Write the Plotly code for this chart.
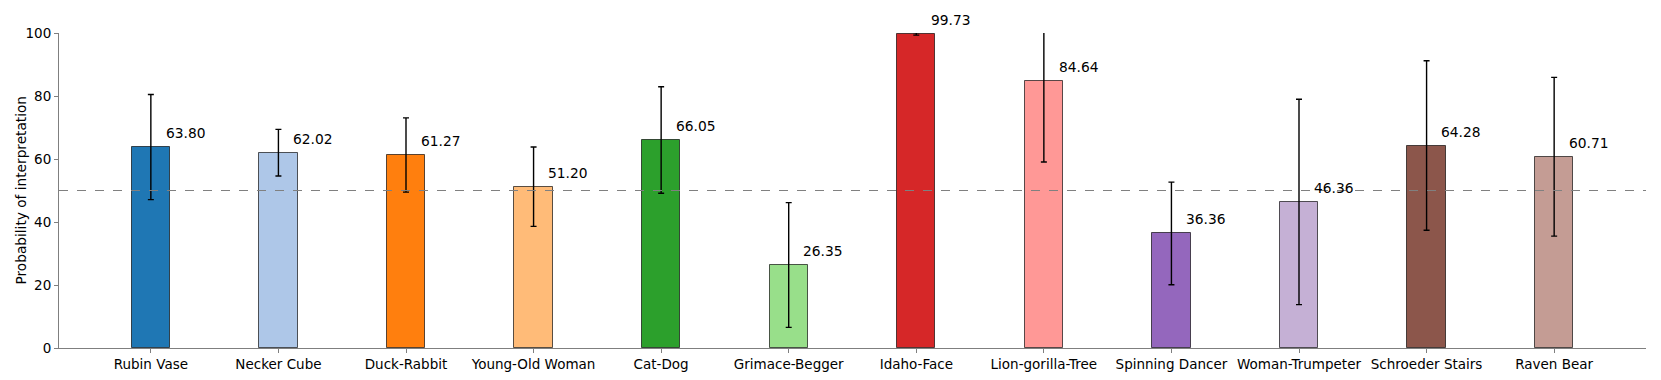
import plotly.graph_objects as go

categories = ["Rubin Vase", "Necker Cube", "Duck-Rabbit", "Young-Old Woman", "Cat-Dog",
              "Grimace-Begger", "Idaho-Face", "Lion-gorilla-Tree", "Spinning Dancer",
              "Woman-Trumpeter", "Schroeder Stairs", "Raven Bear"]
values = [63.80, 62.02, 61.27, 51.20, 66.05, 26.35, 99.73, 84.64, 36.36, 46.36, 64.28, 60.71]
errors = [16.7, 7.4, 11.8, 12.6, 16.9, 19.8, 0.4, 25.6, 16.3, 32.6, 26.9, 25.2]
colors = ["#1f77b4", "#aec7e8", "#ff7f0e", "#ffbb78", "#2ca02c", "#98df8a",
          "#d62728", "#ff9896", "#9467bd", "#c5b0d5", "#8c564b", "#c49c94"]
ref_level = 50
y_title = "Probability of interpretation"

xs = list(range(len(categories)))
font = "DejaVu Sans, sans-serif"

fig = go.Figure()
fig.add_trace(go.Bar(
    x=xs, y=values, width=0.3,
    marker=dict(color=colors, line=dict(color="rgba(0,0,0,0.65)", width=1)),
    error_y=dict(type="data", array=errors, visible=True, color="black", thickness=1.4, width=3),
    showlegend=False, hoverinfo="x+y",
))

# value labels, offset right of bar centre and slightly above the bar top
for x, v in zip(xs, values):
    fig.add_annotation(x=x + 0.1, y=v, xref="x", yref="y", yshift=14, text=f"{v:.2f}",
                       showarrow=False, xanchor="left", yanchor="middle",
                       font=dict(family=font, size=13.8, color="black"))

# y-axis title
fig.add_annotation(x=0, y=0.5, xref="paper", yref="paper", xshift=-39, text=y_title,
                   textangle=-90, showarrow=False, xanchor="center", yanchor="middle",
                   font=dict(family=font, size=13.7, color="black"))

fig.add_shape(type="line", xref="paper", yref="y", x0=0, x1=1, y0=ref_level, y1=ref_level,
              line=dict(color="grey", width=1, dash="dash"))

fig.update_layout(
    width=1645, height=364,
    margin=dict(l=51, r=7, t=25, b=24, autoexpand=False),
    plot_bgcolor="white", paper_bgcolor="white",
    font=dict(family=font, size=13.5, color="black"),
    bargap=0,
)
fig.update_xaxes(range=[-0.72, 11.72], tickmode="array", tickvals=xs, ticktext=categories,
                 showline=True, linecolor="#7f7f7f", linewidth=1, ticks="outside", ticklen=4,
                 tickcolor="#7f7f7f", showgrid=False, zeroline=False, automargin=False)
fig.update_yaxes(range=[0, 100], tickvals=[0, 20, 40, 60, 80, 100],
                 showline=True, linecolor="#7f7f7f", linewidth=1, ticks="outside", ticklen=4,
                 tickcolor="#7f7f7f", showgrid=False, zeroline=False, automargin=False)

fig.write_html("out.html")
